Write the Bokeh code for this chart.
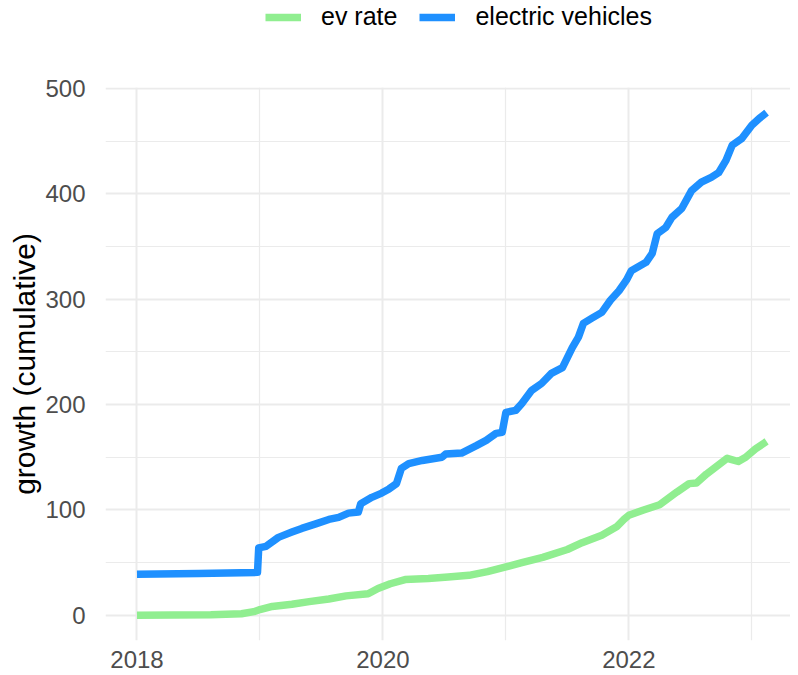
from bokeh.plotting import figure
from bokeh.layouts import column
from bokeh.models import Range1d, FixedTicker, Legend, LegendItem
from bokeh.embed import file_html
from bokeh.resources import INLINE

# electric vehicles (cumulative growth)
ev_year = [2018.00, 2018.50, 2018.98, 2018.99, 2019.05, 2019.15, 2019.26, 2019.34, 2019.46,
           2019.56, 2019.64, 2019.72, 2019.80, 2019.82, 2019.91, 2019.99, 2020.05, 2020.11,
           2020.15, 2020.21, 2020.32, 2020.48, 2020.51, 2020.64, 2020.76, 2020.84, 2020.92,
           2020.97, 2021.00, 2021.08, 2021.13, 2021.21, 2021.29, 2021.37, 2021.46, 2021.54,
           2021.59, 2021.63, 2021.70, 2021.78, 2021.85, 2021.92, 2021.98, 2022.02, 2022.14,
           2022.19, 2022.23, 2022.30, 2022.35, 2022.43, 2022.51, 2022.59, 2022.67, 2022.73,
           2022.79, 2022.84, 2022.92, 2023.00, 2023.06, 2023.12]
ev_value = [38.9, 39.8, 40.8, 64.0, 65.5, 74.0, 79.0, 82.5, 87.0,
            91.0, 93.0, 97.0, 98.0, 106.0, 112.0, 116.0, 120.0, 125.0,
            139.5, 144.0, 147.0, 150.0, 153.0, 154.0, 161.0, 166.0, 172.7,
            173.6, 192.6, 194.5, 201.0, 213.5, 220.0, 229.6, 235.0, 254.0,
            264.0, 277.0, 282.0, 287.5, 299.0, 308.0, 318.0, 327.0, 335.0,
            343.5, 362.0, 368.0, 377.6, 386.0, 403.0, 411.0, 415.5, 420.0,
            431.7, 446.0, 452.6, 465.0, 471.5, 477.0]

# ev rate (cumulative growth)
rate_year = [2018.00, 2018.60, 2018.85, 2018.95, 2019.00, 2019.10, 2019.26, 2019.40, 2019.56,
             2019.70, 2019.88, 2019.96, 2020.06, 2020.18, 2020.37, 2020.53, 2020.70, 2020.85,
             2021.00, 2021.13, 2021.30, 2021.50, 2021.62, 2021.78, 2021.90, 2021.96, 2022.00,
             2022.12, 2022.25, 2022.39, 2022.49, 2022.55, 2022.63, 2022.80, 2022.89, 2022.95,
             2023.03, 2023.12]
rate_value = [0.0, 0.5, 1.5, 3.5, 5.5, 8.5, 10.5, 13.0, 15.5,
              18.5, 20.5, 25.5, 30.0, 34.0, 35.0, 36.5, 38.0, 41.5,
              46.0, 50.0, 55.0, 62.5, 69.0, 76.0, 84.0, 91.0, 95.0,
              100.0, 105.0, 117.0, 125.0, 125.5, 134.0, 149.0, 146.0, 150.0,
              158.0, 165.0]

series_labels = ["ev rate", "electric vehicles"]
series_colors = ["#90EE90", "#1E90FF"]
x_ticks = [2018, 2020, 2022]
x_minor = [2019, 2021, 2023]
y_ticks = [0, 100, 200, 300, 400, 500]
y_minor = [50, 150, 250, 350, 450]

FONT = "Liberation Sans"
LW = 7.5

all_x = ev_year + rate_year
all_y = ev_value + rate_value + [0]
xspan = max(all_x) - min(all_x)
yspan = max(all_y) - min(all_y)

# ---- main plot ----
p = figure(width=790, height=632, output_backend="svg", toolbar_location=None,
           x_range=Range1d(min(all_x) - 0.05 * xspan, max(all_x) + 0.038 * xspan),
           y_range=Range1d(min(all_y) - 0.05 * yspan, max(all_y) + 0.05 * yspan),
           min_border_left=105, min_border_right=0, min_border_top=47, min_border_bottom=32)
p.outline_line_color = None
p.background_fill_color = "white"
p.border_fill_color = "white"

p.line(rate_year, rate_value, line_color=series_colors[0], line_width=LW, line_join="round")
p.line(ev_year, ev_value, line_color=series_colors[1], line_width=LW, line_join="round")

p.xaxis.ticker = FixedTicker(ticks=x_ticks, minor_ticks=x_minor)
p.yaxis.ticker = FixedTicker(ticks=y_ticks, minor_ticks=y_minor)
p.xgrid.ticker = FixedTicker(ticks=x_ticks, minor_ticks=x_minor)
p.ygrid.ticker = FixedTicker(ticks=y_ticks, minor_ticks=y_minor)
for g in (p.xgrid, p.ygrid):
    g.grid_line_color = "#EBEBEB"
    g.grid_line_width = 2
    g.minor_grid_line_color = "#EBEBEB"
    g.minor_grid_line_width = 1.2

for ax in (p.xaxis, p.yaxis):
    ax.axis_line_color = None
    ax.major_tick_line_color = None
    ax.minor_tick_line_color = None
    ax.major_label_text_font = FONT
    ax.major_label_text_font_size = "24px"
    ax.major_label_text_color = "#4D4D4D"

p.xaxis.major_label_standoff = 4
p.yaxis.major_label_standoff = 14
p.yaxis.axis_label = "growth (cumulative)"
p.yaxis.axis_label_text_font = FONT
p.yaxis.axis_label_text_font_size = "30px"
p.yaxis.axis_label_text_font_style = "normal"
p.yaxis.axis_label_text_color = "black"
p.yaxis.axis_label_standoff = 1

# ---- legend strip: the series are drawn here outside the visible range,
#      only their legend keys show ----
lg = figure(width=790, height=40, output_backend="svg", toolbar_location=None,
            x_range=Range1d(0, 1), y_range=Range1d(0, 1),
            min_border_left=0, min_border_right=0, min_border_top=0, min_border_bottom=0)
lg.axis.visible = False
lg.grid.visible = False
lg.outline_line_color = None
key_rate = lg.line(rate_year, rate_value, line_color=series_colors[0], line_width=LW)
key_ev = lg.line(ev_year, ev_value, line_color=series_colors[1], line_width=LW)

legend = Legend(items=[LegendItem(label=series_labels[0], renderers=[key_rate]),
                       LegendItem(label=series_labels[1], renderers=[key_ev])],
                orientation="horizontal", location=(160, 9))
legend.label_text_font = FONT
legend.label_text_font_size = "25px"
legend.label_text_color = "black"
legend.glyph_width = 36
legend.glyph_height = 20
legend.label_standoff = 20
legend.spacing = 22
legend.padding = 0
legend.margin = 0
legend.border_line_color = None
legend.background_fill_alpha = 0
lg.add_layout(legend, "center")

layout = column(lg, p, spacing=0)
open("out.html", "w").write(file_html(layout, INLINE))
